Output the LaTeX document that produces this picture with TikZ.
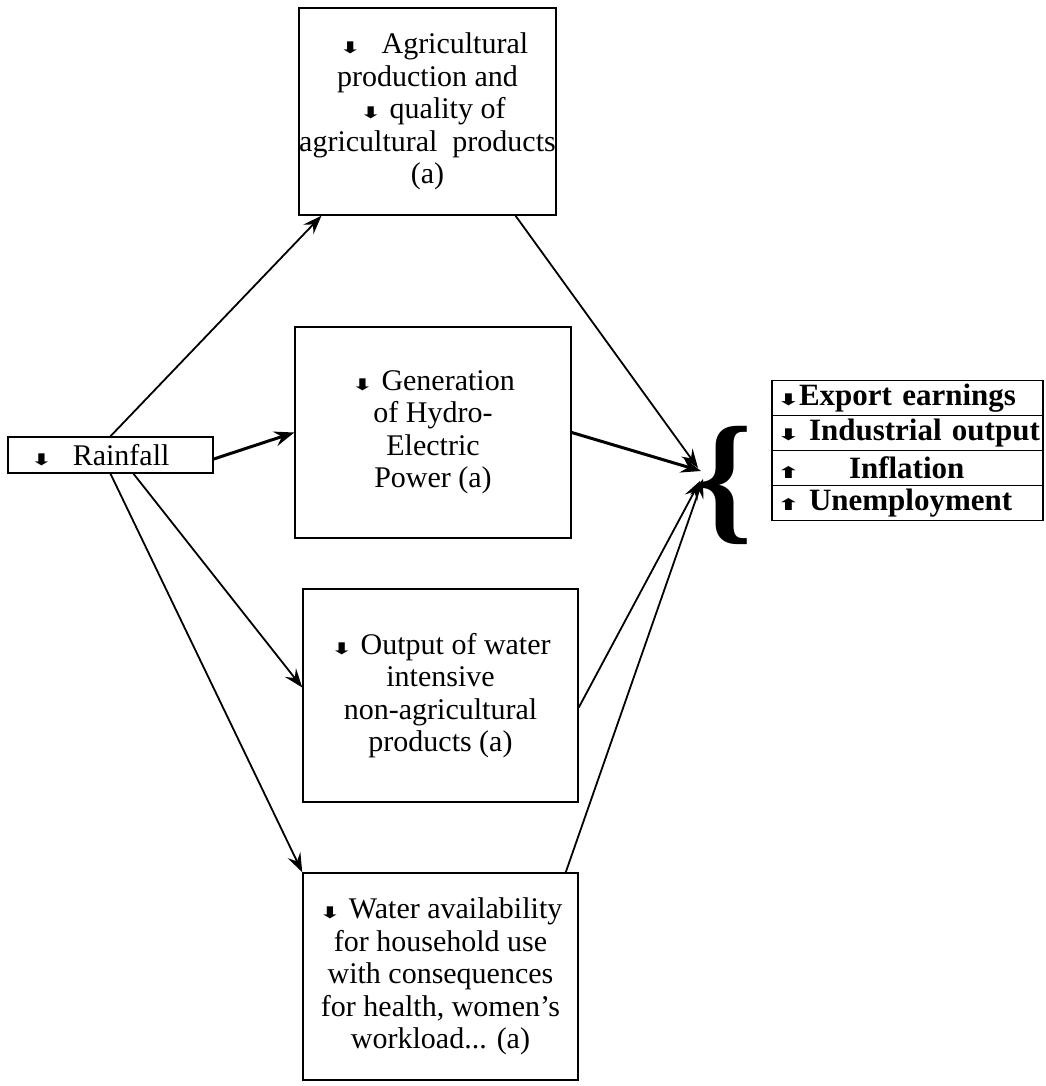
\documentclass[tikz,border=0pt]{standalone}
\usepackage{fontspec}
\setmainfont{Liberation Serif}
\newfontfamily\symf{DejaVu Sans}
\usetikzlibrary{arrows.meta,calc}
\newcommand\dnarr{\scalebox{1.7}[1]{\symf\fontsize{16}{16}\selectfont ⬇}}
\newcommand\uparr{\scalebox{1.7}[1]{\symf\fontsize{16}{16}\selectfont ⬆}}
\begin{document}
\begin{tikzpicture}[x=1pt,y=-1pt,
  box/.style={draw, line width=1.5pt, align=center, inner sep=0pt,
    font=\fontsize{30}{32.5}\selectfont},
  rowbox/.style={draw, line width=1.5pt, minimum width=271pt, minimum height=35pt,
    text width=265pt, inner xsep=3pt, inner ysep=0pt, align=left,
    font=\fontsize{31}{32}\selectfont\bfseries},
  conn/.style={line width=1.8pt, -{Stealth[length=19pt,width=14pt,inset=7pt]}},
  thickconn/.style={line width=3pt, -{Stealth[length=20pt,width=15pt,inset=7pt]}}]
\useasboundingbox (0,0) rectangle (1045,1086);

\node[box, minimum width=251pt, minimum height=207pt] (agri) at (427.5,111.5)
  {\hspace*{12pt}\dnarr\ \ \,Agricultural\\production and\\\hspace*{10pt}\dnarr\ quality of\\agricultural\ \ products\\(a)};
\node[box, minimum width=276pt, minimum height=211pt] (hydro) at (433,432.5)
  {\dnarr\ Generation\\of Hydro-\\Electric\\Power (a)};
\node[box, minimum width=275pt, minimum height=213pt] (output) at (440.5,695.5)
  {\dnarr\ Output of water\\intensive\\non-agricultural\\products (a)};
\node[box, minimum width=275pt, minimum height=207pt] (water) at (440.5,976.5)
  {\dnarr\ Water availability\\for household use\\with consequences\\for health, women's\\workload... (a)};
\node[box, minimum height=36pt, text width=161pt, inner xsep=22pt, align=left] (rain) at (110.5,455)
  {\dnarr\ \ Rainfall};

\node[rowbox] (r1) at (907.5,398) {\mbox{\hspace*{2pt}\makebox[22pt][l]{\dnarr}Export earnings}};
\node[rowbox] (r2) at (907.5,433) {\mbox{\hspace*{2pt}\makebox[32pt][l]{\dnarr}Industrial output}};
\node[rowbox] (r3) at (907.5,468) {\mbox{\hspace*{2pt}\makebox[72pt][l]{\uparr}Inflation}};
\node[rowbox] (r4) at (907.5,503) {\mbox{\hspace*{2pt}\makebox[32pt][l]{\uparr}Unemployment}};

\node[inner sep=0pt, font=\fontsize{143}{143}\selectfont\bfseries] (brace) at (725,485.5) {\{};

\coordinate (c1) at (698,468);
\coordinate (c2) at (701,471);
\coordinate (c3) at (700,481);
\coordinate (c4) at (703,479);

\draw[conn] (rain.north) -- ($(agri.south west)+(23,0)$);
\draw[thickconn] ($(rain.east)+(0,4)$) -- (hydro.west);
\draw[conn] ($(rain.south)+(23,0)$) -- ($(output.west)+(0,-8)$);
\draw[conn] (rain.south) -- (water.north west);

\draw[conn] ($(agri.south east)+(-41,0)$) -- (c1);
\draw[thickconn] (hydro.east) -- (c2);
\draw[conn] ($(output.east)+(0,12)$) -- (c3);
\draw[conn] ($(water.north east)+(-13,0)$) -- (c4);
\end{tikzpicture}
\end{document}
